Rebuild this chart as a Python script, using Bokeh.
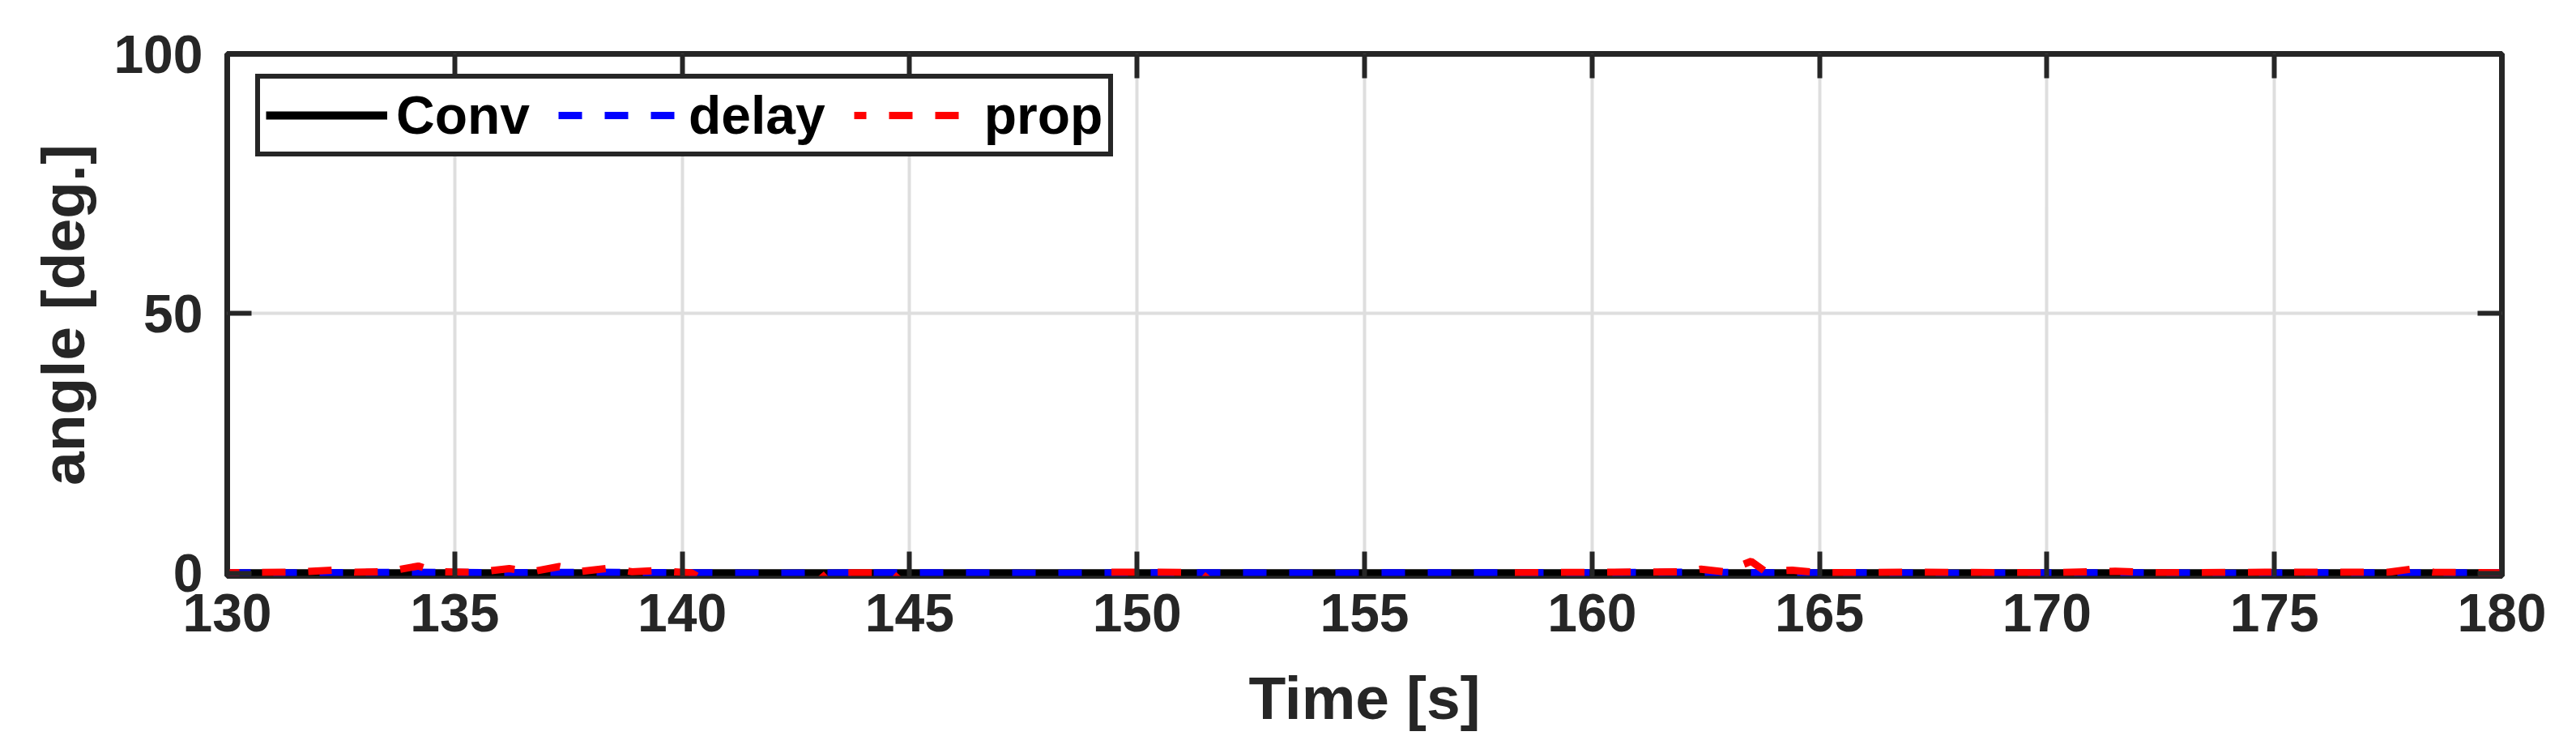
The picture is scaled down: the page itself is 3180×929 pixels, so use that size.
from bokeh.plotting import figure
from bokeh.models import Range1d, FixedTicker, LinearAxis, Legend, LegendItem
from bokeh.embed import file_html
from bokeh.resources import INLINE

# ---------------- data ----------------
x_ticks = [130, 135, 140, 145, 150, 155, 160, 165, 170, 175, 180]
y_ticks = [0, 50, 100]

conv_t = [130, 135, 140, 145, 150, 155, 160, 165, 170, 175, 180]
conv_v = [0.0, 0.0, 0.0, 0.0, 0.0, 0.0, 0.0, 0.0, 0.0, 0.0, 0.0]

delay_t = [130, 132, 134, 136, 138, 140, 142, 144, 146, 148, 150, 152, 154,
           156, 158, 160, 162, 164, 166, 168, 170, 172, 174, 176, 178, 180]
delay_v = [0.1, 0.1, 0.2, 0.1, 0.2, 0.1, 0.0, 0.1, 0.1, 0.0, 0.1, 0.1, 0.0,
           0.1, 0.1, 0.1, 0.2, 0.1, 0.1, 0.0, 0.1, 0.1, 0.0, 0.1, 0.1, 0.1]

prop_t = [130.0, 131.5, 132.3, 132.8, 133.5, 134.2, 134.6, 135.5, 136.2, 136.7,
          137.3, 137.8, 138.4, 138.9, 139.4, 140.2, 140.8, 142.8, 143.2, 144.6,
          145.0, 148.9, 149.2, 150.5, 151.4, 151.8, 157.8, 158.2, 160.5, 162.0,
          162.4, 162.9, 163.5, 163.8, 164.4, 165.0, 167.0, 170.0, 171.5, 172.5,
          175.0, 177.5, 178.0, 178.5, 180.0]
prop_v = [0.1, 0.2, 0.6, 0.2, 0.3, 1.4, 0.3, 0.2, 0.9, 0.3,
          1.3, 0.4, 1.0, 0.3, 0.5, 0.1, -3.0, -3.0, 0.1, 0.1,
          -3.0, -3.0, 0.2, 0.2, 0.1, -3.0, -3.0, 0.1, 0.2, 0.3,
          0.8, 0.3, 2.3, 0.4, 0.6, 0.1, 0.2, 0.1, 0.4, 0.1,
          0.2, 0.2, 0.8, 0.2, 0.1]

# ---------------- styles ----------------
FONT = "Liberation Sans"
AX_COLOR = "#262626"
GRID_COLOR = "#dedede"

p = figure(width=3164, height=913, output_backend="svg", toolbar_location=None,
           x_range=Range1d(130, 180), y_range=Range1d(-0.5, 100),
           min_border_left=280, min_border_right=76,
           min_border_top=66, min_border_bottom=203,
           background_fill_color="white", border_fill_color="white")

p.outline_line_color = AX_COLOR
p.outline_line_width = 7

# grid
p.xgrid.ticker = FixedTicker(ticks=x_ticks)
p.ygrid.ticker = FixedTicker(ticks=y_ticks)
for g in (p.xgrid[0], p.ygrid[0]):
    g.grid_line_color = GRID_COLOR
    g.grid_line_width = 4

# lines
r_conv = p.line(conv_t, conv_v, line_color="black", line_width=10)
r_delay = p.line(delay_t, delay_v, line_color="#0000ff", line_width=9,
                 line_dash="29 28")
r_prop = p.line(prop_t, prop_v, line_color="#ff0000", line_width=9,
                line_dash="29 28", line_dash_offset=14)

# axes
xb = p.xaxis[0]
yl = p.yaxis[0]
top = LinearAxis()
right = LinearAxis()
p.add_layout(top, "above")
p.add_layout(right, "right")

for ax, ticks in ((xb, x_ticks), (top, x_ticks), (yl, y_ticks), (right, y_ticks)):
    ax.ticker = FixedTicker(ticks=ticks)
    ax.axis_line_color = None
    ax.major_tick_in = 30
    ax.major_tick_out = 0
    ax.major_tick_line_width = 6
    ax.major_tick_line_color = AX_COLOR
    ax.minor_tick_line_color = None
    ax.major_label_text_font = FONT
    ax.major_label_text_font_style = "bold"
    ax.major_label_text_font_size = "66px"
    ax.major_label_text_color = AX_COLOR

xb.major_label_standoff = 22
yl.major_label_standoff = 30

for ax in (top, right):
    ax.major_label_text_color = None
    ax.major_label_text_font_size = "1px"
    ax.major_label_standoff = 0

xb.axis_label = "Time [s]"
yl.axis_label = "angle [deg.]"
for ax, so in ((xb, 37), (yl, 17)):
    ax.axis_label_text_font = FONT
    ax.axis_label_text_font_style = "bold"
    ax.axis_label_text_font_size = "75px"
    ax.axis_label_text_color = AX_COLOR
    ax.axis_label_standoff = so

legend = Legend(items=[LegendItem(label="Conv", renderers=[r_conv]),
                       LegendItem(label="delay", renderers=[r_delay]),
                       LegendItem(label="prop", renderers=[r_prop])],
                orientation="horizontal", location=(35, 517),
                label_text_font=FONT, label_text_font_style="bold",
                label_text_font_size="66px", label_text_color="black",
                glyph_width=150, glyph_height=20, label_standoff=11,
                spacing=35, padding=7, margin=0,
                border_line_color=AX_COLOR, border_line_width=6,
                border_line_alpha=1.0,
                background_fill_color="white", background_fill_alpha=1.0)
p.add_layout(legend)

open("out.html", "w").write(file_html(p, INLINE))
